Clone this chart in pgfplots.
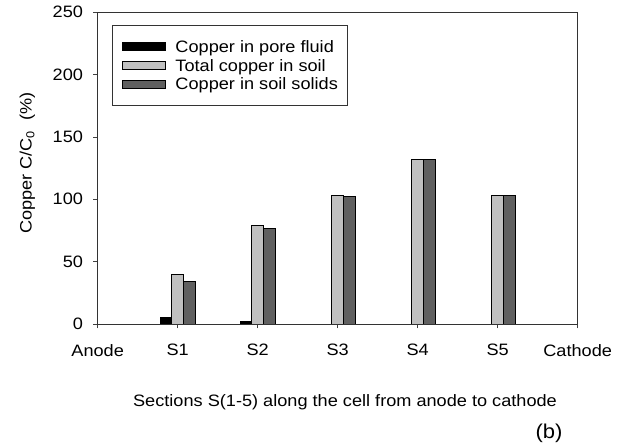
\documentclass[border=0pt]{standalone}
\usepackage{pgfplots}
\pgfplotsset{compat=1.18}
\usepackage{fontspec}
\setmainfont[FakeStretch=1.1]{Liberation Sans}
\definecolor{lgray}{HTML}{C0C0C0}
\definecolor{dgray}{HTML}{606060}
\begin{document}
\fontsize{16.5bp}{20bp}\selectfont
\begin{tikzpicture}
\path[use as bounding box] (0,0) rectangle (618bp,444bp);
\begin{axis}[
  scale only axis, width=480bp, height=311.7bp,
  at={(97.7bp,120bp)}, anchor=south west,
  xmin=0, xmax=6, ymin=0, ymax=250,
  xtick={0,1,2,3,4,5,6},
  xticklabels={\raisebox{-2bp}{Anode},S1,S2,S3,\raisebox{-4bp}{S4},S5,Cathode},
  ytick={0,50,100,150,200,250},
  tick align=outside, xtick pos=lower, ytick pos=left,
  major tick length=4.5bp,
  tick style={black!75, line width=0.8bp},
  axis line style={black!80, line width=0.8bp},
  ybar=0pt, bar width=11.7bp,
  /pgf/number format/assume math mode=true,
  tick label style={font=\fontsize{16.5bp}{20bp}\selectfont},
  xticklabel style={yshift=-10bp},
  yticklabel style={xshift=-4.5bp},
  legend cell align=left,
  legend style={at={(0.0304,0.959)}, anchor=north west, draw=black!80,
    line width=0.8bp, font=\fontsize{16.5bp}{20bp}\selectfont,
    inner xsep=9bp, inner ysep=13bp, row sep=2.5bp, column sep=10bp,
    nodes={inner xsep=0bp, inner ysep=0bp, text height=14bp, text depth=2.2bp}},
  myleg/.style={legend image code/.code={\draw[##1,line width=0.8bp] (0bp,-4bp) rectangle (43bp,4bp);}},
]
\addplot[fill=black, draw=black, line width=0.8bp, myleg] coordinates {(1,5.5) (2,2.1)};
\addplot[fill=lgray, draw=black, line width=0.8bp, myleg] coordinates {(1,40) (2,79) (3,103) (4,132) (5,103)};
\addplot[fill=dgray, draw=black, line width=0.8bp, myleg] coordinates {(1,34) (2,76.5) (3,102.5) (4,132) (5,103)};
\legend{Copper in pore fluid, Total copper in soil, Copper in soil solids}
\end{axis}
\node[rotate=90, anchor=base, font=\fontsize{16.5bp}{20bp}\selectfont] at (31.7bp,281bp) {Copper C/C\textsubscript{0}\ \ (\%)};
\node[anchor=base] at (345bp,37.3bp) {Sections S(1-5) along the cell from anode to cathode};
\node[anchor=base, font=\fontsize{20bp}{24bp}\selectfont] at (549bp,6bp) {(b)};
\end{tikzpicture}
\end{document}
